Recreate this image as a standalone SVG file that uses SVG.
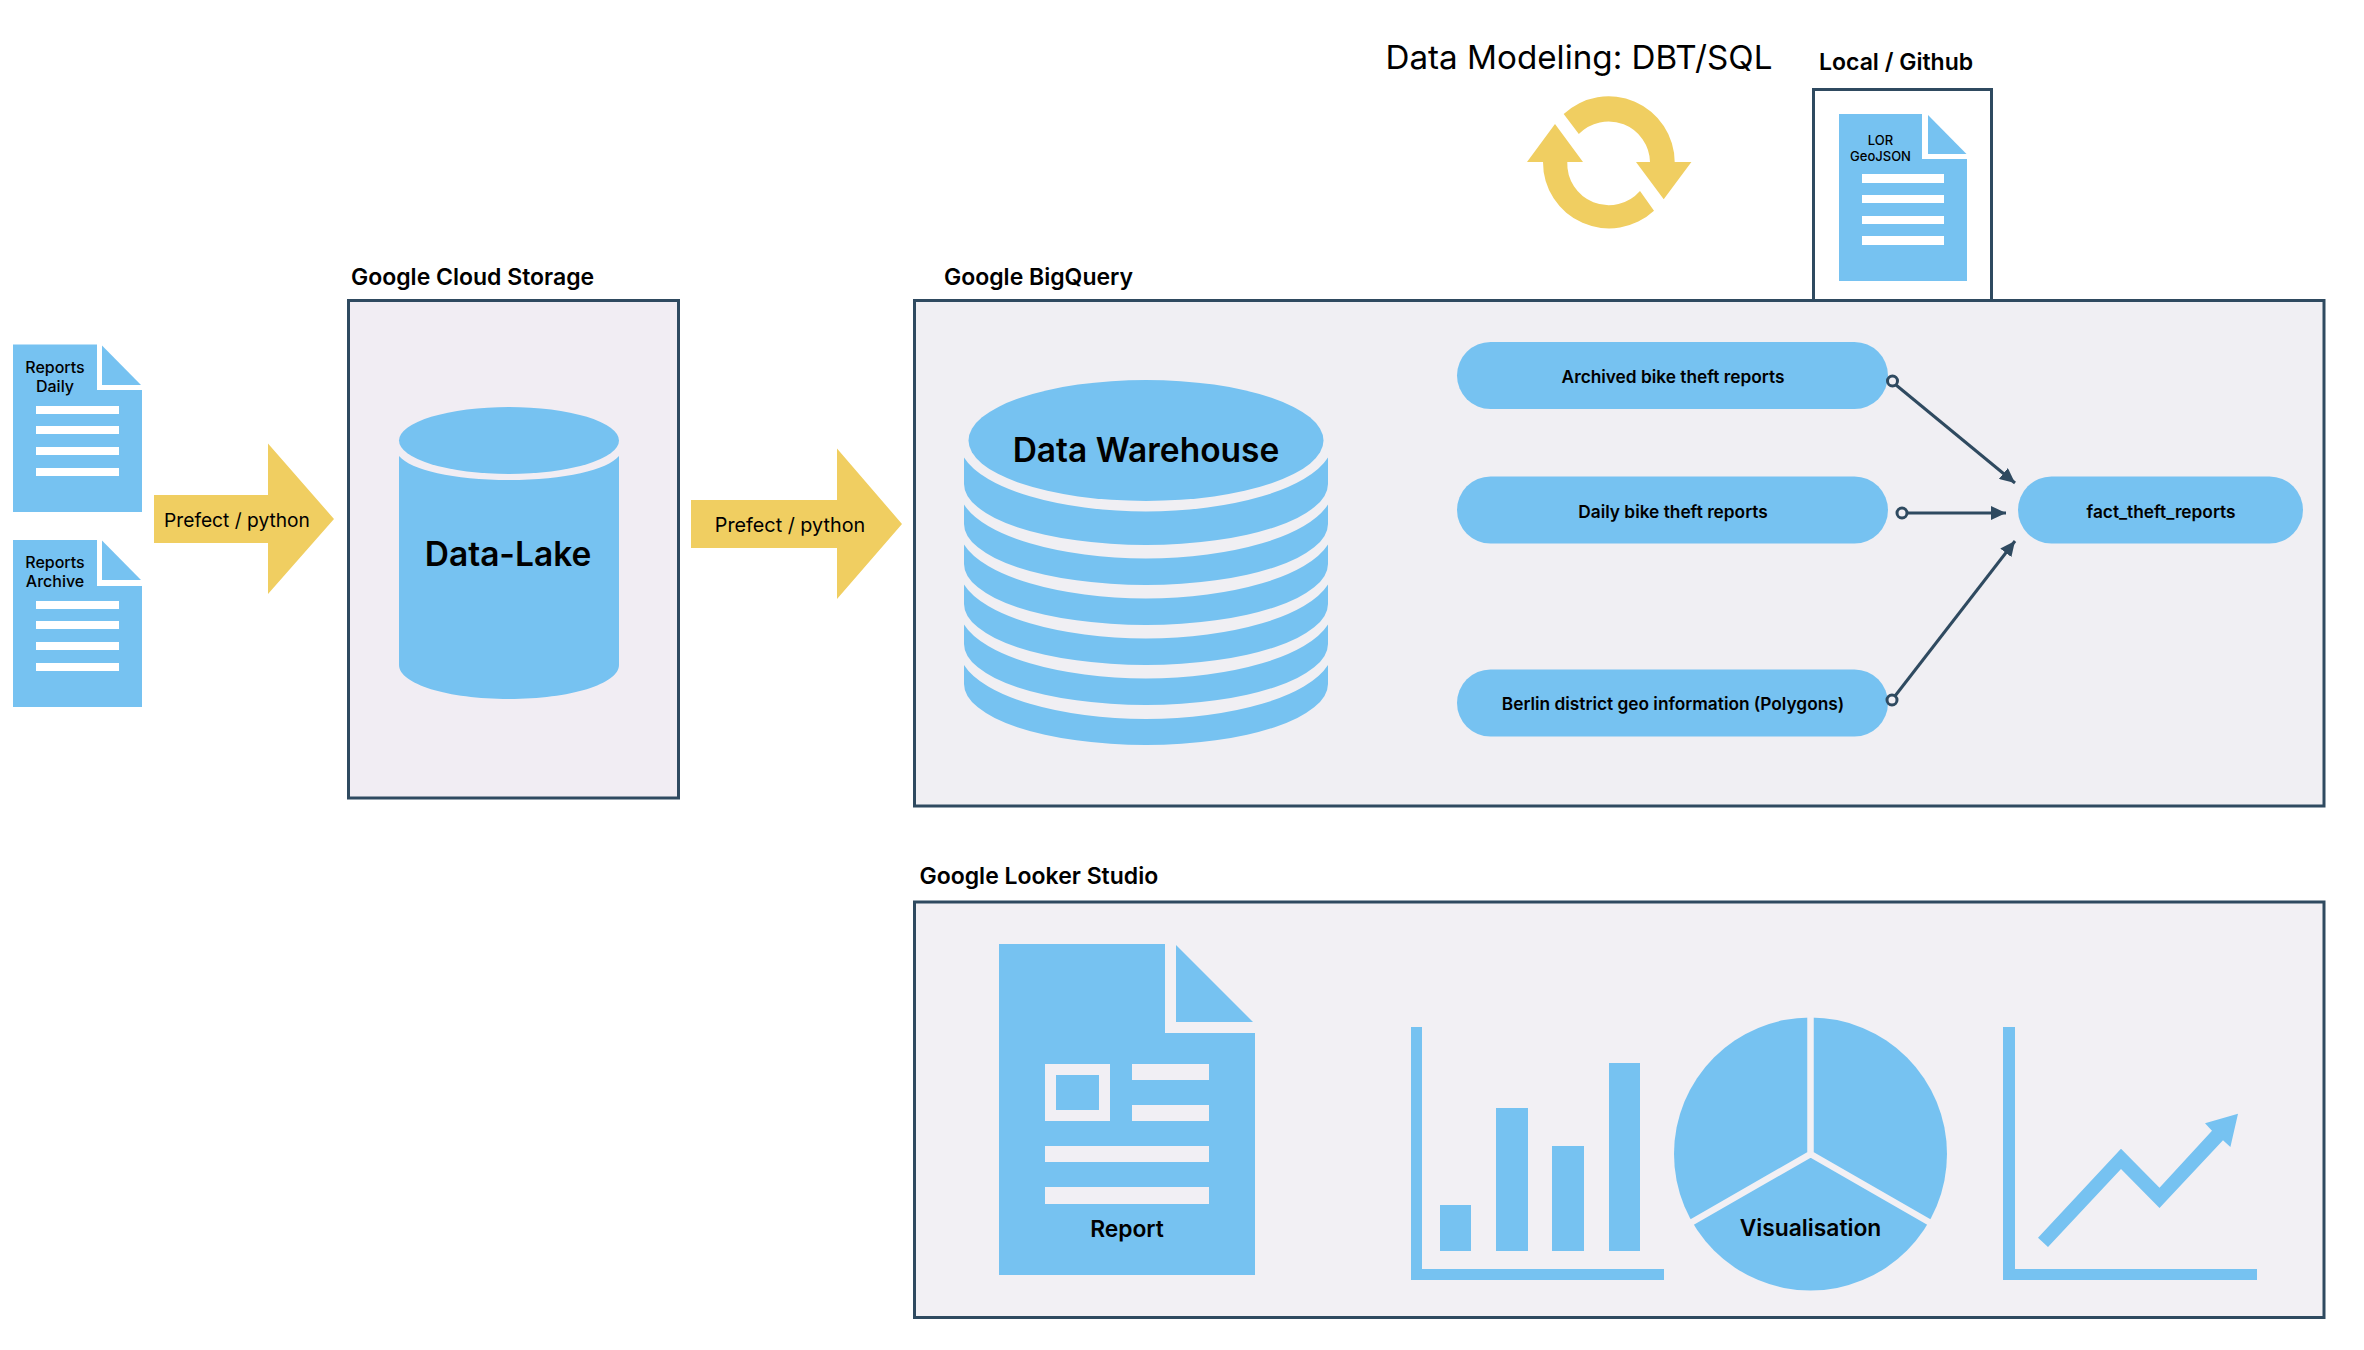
<svg xmlns="http://www.w3.org/2000/svg" width="2364" height="1350" viewBox="0 0 2364 1350">
<style>
text{font-family:Inter,"Liberation Sans",sans-serif;fill:#000;text-anchor:middle}
.title{font-size:23px;font-weight:600;text-anchor:start}
.doc{font-size:16px;font-weight:500}
.pill{font-size:17.300px;font-weight:600}
.arr{font-size:19.200px;font-weight:400}
.big{font-size:33.500px;font-weight:600}
.mid{font-size:22.800px;font-weight:600}
.frame{stroke:#2f4a60;stroke-width:3}
.b{fill:#76c2f1}
.y{fill:#f0ce61}
.w{fill:#fff}
.g{fill:#f1eff4}
.con{stroke:#2f4a60;stroke-width:3;fill:none;marker-end:url(#tip)}
.dot{stroke:#2f4a60;stroke-width:3;fill:#f1eff4}
</style>
<defs>
<marker id="tip" markerUnits="userSpaceOnUse" markerWidth="16" markerHeight="14" refX="15" refY="7" orient="auto"><path d="M0,0L15,7L0,14Z" fill="#2f4a60"/></marker>
</defs>
<rect width="2364" height="1350" fill="#fff"/>
<g id="frames">
<rect class="frame" x="348.5" y="300.5" width="330" height="497.5" fill="#f1edf3"/>
<rect class="frame" x="1813.5" y="89.5" width="178" height="212" fill="#fff"/>
<rect class="frame" x="914.5" y="300.5" width="1409.5" height="505.5" fill="#f0eff3"/>
<rect class="frame" x="914.5" y="902" width="1409.5" height="415.5" fill="#f2f0f4"/>
</g>
<g id="titles">
<text class="title" x="351" y="285">Google Cloud Storage</text>
<text class="title" x="944" y="285">Google BigQuery</text>
<text class="title" x="1819" y="70">Local / Github</text>
<text class="title" x="919.5" y="884">Google Looker Studio</text>
<text x="1579" y="69" style="font-size:33.200px;font-weight:400">Data Modeling: DBT/SQL</text>
</g>
<g id="doc-daily">
<path class="b" d="M13,344.500H97V390H142V512H13Z"/>
<path class="b" d="M102,345.500V385H141Z"/>
<path class="w" d="M36,406h83v8h-83zM36,426h83v8h-83zM36,447h83v8h-83zM36,468h83v8h-83z"/>
<text class="doc" x="55" y="373">Reports</text><text class="doc" x="55" y="392">Daily</text>
</g>
<g id="doc-archive">
<path class="b" d="M13,540H97V586H142V707H13Z"/>
<path class="b" d="M102,540.500V580H141Z"/>
<path class="w" d="M36,601h83v8h-83zM36,621h83v8h-83zM36,642h83v8h-83zM36,663h83v8h-83z"/>
<text class="doc" x="55" y="568">Reports</text><text class="doc" x="55" y="587">Archive</text>
</g>
<g id="arrow-1">
<path class="y" d="M154,495H268V443.500L334,519L268,594V543H154Z"/>
<text class="arr" x="237" y="527">Prefect / python</text>
</g>
<g id="data-lake">
<ellipse class="b" cx="509" cy="440.500" rx="110" ry="33.500"/>
<path class="b" d="M399,456V665C399,684 448,699 509,699S619,684 619,665V456C607,470 565,480 509,480S411,470 399,456Z"/>
<text class="big" x="508" y="566">Data-Lake</text>
</g>
<g id="arrow-2">
<path class="y" d="M691,500H837V448.500L902,524L837,599V548H691Z"/>
<text class="arr" x="790" y="532" style="font-size:19.800px">Prefect / python</text>
</g>
<g id="data-warehouse">
<ellipse class="b" cx="1146" cy="440.500" rx="177.5" ry="60.500"/>
<path class="b" d="M964,457.500A187,70 0 0 0 1328,457.500V484A182,61 0 0 1 964,484Z"/>
<path class="b" d="M964,504.500A187,70 0 0 0 1328,504.500V524A182,61 0 0 1 964,524Z"/>
<path class="b" d="M964,544.500A187,70 0 0 0 1328,544.500V564A182,61 0 0 1 964,564Z"/>
<path class="b" d="M964,584.500A187,70 0 0 0 1328,584.500V604A182,61 0 0 1 964,604Z"/>
<path class="b" d="M964,624.500A187,70 0 0 0 1328,624.500V644A182,61 0 0 1 964,644Z"/>
<path class="b" d="M964,665A187,70 0 0 0 1328,665V684A182,61 0 0 1 964,684Z"/>
<text class="big" x="1146" y="462">Data Warehouse</text>
</g>
<g id="cycle">
<path class="y" d="M1563.700,114A66,66 0 0 1 1674.700,162H1691.400L1663.700,199.300L1636,162H1650A41.500,41.500 0 0 0 1578.800,134Z"/>
<path class="y" d="M1654,210.700A66,66 0 0 1 1543,162H1527L1555,124L1583,162H1567.300A41.500,41.500 0 0 0 1640,191Z"/>
</g>
<g id="doc-lor">
<path class="b" d="M1839,114H1922V159H1967V281H1839Z"/>
<path class="b" d="M1928,115V154H1966.500Z"/>
<path class="w" d="M1862,174h82v9h-82zM1862,195h82v8h-82zM1862,216h82v8h-82zM1862,236h82v9h-82z"/>
<text x="1880.500" y="145" style="font-size:13px;font-weight:500">LOR</text>
<text x="1880.500" y="161" style="font-size:13px;font-weight:500">GeoJSON</text>
</g>
<g id="pill-archived"><rect class="b" x="1457" y="342" width="431" height="67" rx="33.500"/><text class="pill" x="1673" y="383">Archived bike theft reports</text></g>
<g id="pill-daily"><rect class="b" x="1457" y="476.500" width="431" height="67" rx="33.500"/><text class="pill" x="1673" y="518">Daily bike theft reports</text></g>
<g id="pill-berlin"><rect class="b" x="1457" y="669.500" width="431" height="67" rx="33.500"/><text class="pill" x="1673" y="710">Berlin district geo information (Polygons)</text></g>
<g id="pill-fact"><rect class="b" x="2018" y="476.500" width="285" height="67" rx="33.500"/><text class="pill" x="2161" y="518">fact_theft_reports</text></g>
<g id="connectors">
<path class="con" d="M1896,385L2015,483"/>
<path class="con" d="M1907,513H2006"/>
<path class="con" d="M1895,696L2015,541"/>
<circle class="dot" cx="1892.500" cy="381" r="5"/>
<circle class="dot" cx="1902" cy="513" r="5"/>
<circle class="dot" cx="1892" cy="700" r="5"/>
</g>
<g id="report">
<path class="b" d="M999,944H1165V1033H1255V1275H999Z"/>
<path class="b" d="M1176,945V1022H1253Z"/>
<path class="g" fill-rule="evenodd" d="M1045,1064H1110V1121H1045ZM1056,1075V1110H1099V1075Z"/>
<path class="g" d="M1132,1064h77v16h-77zM1132,1105h77v16h-77zM1045,1146h164v16h-164zM1045,1187h164v17h-164z"/>
<text class="mid" x="1127" y="1237">Report</text>
</g>
<g id="bar-chart">
<path class="b" d="M1411,1027H1422V1269H1664V1280H1411Z"/>
<path class="b" d="M1440,1205h31v46h-31zM1496,1108h32v143h-32zM1552,1146h32v105h-32zM1609,1063h31v188h-31z"/>
</g>
<g id="pie">
<circle class="b" cx="1810.500" cy="1154" r="136.500"/>
<path d="M1810.500,1010V1154L1680,1229M1810.500,1154L1941,1229" fill="none" stroke="#f2f0f4" stroke-width="6.500"/>
<text class="mid" x="1810.500" y="1236">Visualisation</text>
</g>
<g id="line-chart">
<path class="b" d="M2003,1027H2015V1269H2257V1280H2003Z"/>
<path class="b" d="M2038,1237.700L2121,1148.700L2159.500,1187.700L2212,1130.700L2205,1123.300L2238,1113.700L2230.400,1147L2223,1140.300L2159.500,1208L2121,1169L2048,1247Z"/>
</g>
</svg>
